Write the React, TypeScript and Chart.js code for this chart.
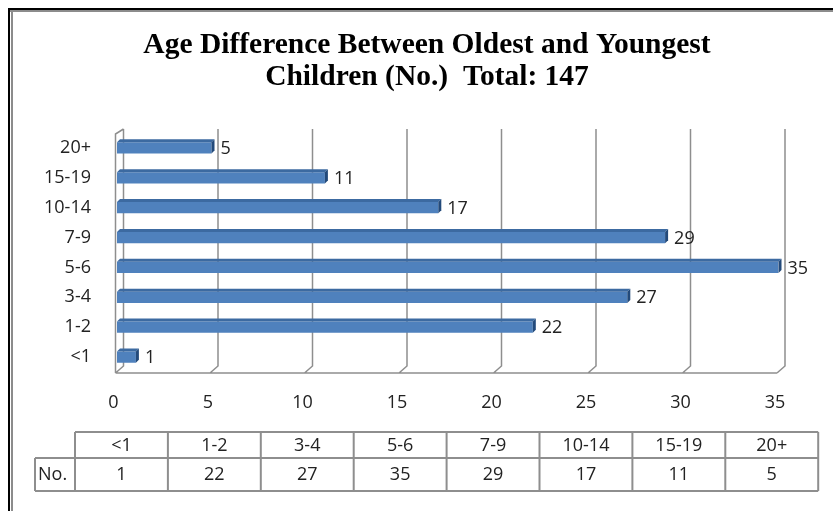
import React, { useEffect, useRef } from 'react';
import { Chart, registerables } from 'chart.js';

Chart.register(...registerables);

// ---- data ----
const categories = ['<1', '1-2', '3-4', '5-6', '7-9', '10-14', '15-19', '20+'];
const counts = [1, 22, 27, 35, 29, 17, 11, 5];
const titleLines = ['Age Difference Between Oldest and Youngest', 'Children (No.)  Total: 147'];
const tableRowLabel = 'No.';
const xMin = 0;
const xMax = 35;
const xStep = 5;

const SANS = '"Open Sans", sans-serif';
const SERIF = '"Liberation Serif", "Times New Roman", serif';
const TEXT = '#222';
const GRID = '#8e8e8e';

const framePlugin = {
  id: 'frame',
  beforeDraw(chart: any) {
    const { ctx, width, height } = chart;
    ctx.save();
    ctx.fillStyle = '#fff';
    ctx.fillRect(0, 0, width, height);
    ctx.fillStyle = '#000';
    ctx.fillRect(8, 8, width - 8, 2);
    ctx.fillRect(8, 8, 2, height - 8);
    ctx.fillStyle = '#8c8c8c';
    ctx.fillRect(10, 10, width - 10, 2);
    ctx.fillRect(11, 11, 2, height - 11);
    ctx.restore();
  },
};

const titlePlugin = {
  id: 'customTitle',
  afterDraw(chart: any) {
    const { ctx } = chart;
    ctx.save();
    ctx.fillStyle = '#000';
    ctx.font = `bold 29.5px ${SERIF}`;
    ctx.textAlign = 'center';
    ctx.textBaseline = 'alphabetic';
    titleLines.forEach((line, i) => {
      ctx.fillText(line, 427, 53 + i * 32);
    });
    ctx.restore();
  },
};

const grid3dPlugin = {
  id: 'grid3d',
  beforeDatasetsDraw(chart: any) {
    const { ctx, chartArea } = chart;
    const xs = chart.scales.x;
    const back = 6.5;
    const front = -1.5;
    const yTop = chartArea.top - 4;
    const yBackBot = chartArea.bottom - 6;
    const yFloor = chartArea.bottom + 1;
    ctx.save();
    ctx.strokeStyle = GRID;
    ctx.lineWidth = 1.5;
    ctx.beginPath();
    xs.ticks.forEach((t: any) => {
      const p = xs.getPixelForValue(t.value);
      ctx.moveTo(p + back, yTop);
      ctx.lineTo(p + back, yBackBot);
      ctx.lineTo(p + front, yFloor);
    });
    const p0 = xs.getPixelForValue(xs.min);
    const p1 = xs.getPixelForValue(xs.max);
    ctx.moveTo(p0 + front, yFloor);
    ctx.lineTo(p1 + front, yFloor);
    ctx.moveTo(p0 + front, yFloor);
    ctx.lineTo(p0 + front, yTop + 5);
    ctx.lineTo(p0 + back, yTop);
    ctx.stroke();
    ctx.restore();
  },
};

const bar3dPlugin = {
  id: 'bar3d',
  afterDatasetsDraw(chart: any) {
    const { ctx } = chart;
    const meta = chart.getDatasetMeta(0);
    const dx = 3;
    const dy = 3;
    ctx.save();
    meta.data.forEach((el: any, i: number) => {
      const { x, y, base, height } = el.getProps(['x', 'y', 'base', 'height'], true);
      const t = y - height / 2;
      const b = y + height / 2;
      ctx.fillStyle = '#3c6aa1';
      ctx.beginPath();
      ctx.moveTo(base, t);
      ctx.lineTo(base + dx, t - dy);
      ctx.lineTo(x + dx, t - dy);
      ctx.lineTo(x, t);
      ctx.closePath();
      ctx.fill();
      ctx.fillStyle = '#234a7b';
      ctx.beginPath();
      ctx.moveTo(x, t);
      ctx.lineTo(x + dx, t - dy);
      ctx.lineTo(x + dx, b - dy);
      ctx.lineTo(x, b);
      ctx.closePath();
      ctx.fill();
      ctx.fillStyle = TEXT;
      ctx.font = `18px ${SANS}`;
      ctx.textBaseline = 'middle';
      ctx.textAlign = 'left';
      ctx.fillText(String(counts[i]), x + 9, y + 1);
    });
    ctx.restore();
  },
};

const tablePlugin = {
  id: 'dataTable',
  afterDraw(chart: any) {
    const { ctx } = chart;
    const left = 75;
    const colW = 92.9;
    const top = 432;
    const mid = 458;
    const bot = 491;
    const labelLeft = 35;
    const right = left + colW * categories.length;
    ctx.save();
    ctx.strokeStyle = GRID;
    ctx.lineWidth = 2;
    ctx.beginPath();
    ctx.moveTo(left, top);
    ctx.lineTo(right, top);
    ctx.moveTo(labelLeft, mid);
    ctx.lineTo(right, mid);
    ctx.moveTo(labelLeft, bot);
    ctx.lineTo(right, bot);
    ctx.moveTo(labelLeft, mid);
    ctx.lineTo(labelLeft, bot);
    for (let i = 0; i <= categories.length; i++) {
      const x = left + colW * i;
      ctx.moveTo(x, top);
      ctx.lineTo(x, bot);
    }
    ctx.stroke();
    ctx.fillStyle = TEXT;
    ctx.font = `18px ${SANS}`;
    ctx.textBaseline = 'middle';
    ctx.textAlign = 'center';
    categories.forEach((c, i) => {
      const cx = left + colW * (i + 0.5);
      ctx.fillText(c, cx, (top + mid) / 2 + 1);
      ctx.fillText(String(counts[i]), cx, (mid + bot) / 2);
    });
    ctx.textAlign = 'left';
    ctx.fillText(tableRowLabel, labelLeft + 3, (mid + bot) / 2);
    ctx.restore();
  },
};

export default function App() {
  const ref = useRef<HTMLCanvasElement | null>(null);

  useEffect(() => {
    if (!ref.current) return;
    const chart = new Chart(ref.current, {
      type: 'bar',
      data: {
        labels: categories,
        datasets: [
          {
            data: counts,
            backgroundColor: '#4f81bd',
            borderWidth: 0,
            barPercentage: 0.38,
            categoryPercentage: 1,
          },
        ],
      },
      options: {
        indexAxis: 'y',
        animation: false,
        responsive: false,
        maintainAspectRatio: false,
        devicePixelRatio: 1,
        layout: { padding: { left: 0, right: 54.5, top: 133, bottom: 0 } },
        plugins: {
          legend: { display: false },
          tooltip: { enabled: false },
          title: { display: false },
        },
        scales: {
          x: {
            type: 'linear',
            min: xMin,
            max: xMax,
            grid: { display: false, drawTicks: false },
            border: { display: false },
            ticks: {
              stepSize: xStep,
              padding: 20,
              labelOffset: -3.5,
              color: TEXT,
              font: { family: SANS, size: 18 },
            },
            afterFit: (s: any) => {
              s.height = 139;
            },
          },
          y: {
            type: 'category',
            reverse: true,
            grid: { display: false, drawTicks: false },
            border: { display: false },
            ticks: { padding: 26, color: TEXT, font: { family: SANS, size: 18 } },
            afterFit: (s: any) => {
              s.width = 117;
            },
          },
        },
      },
      plugins: [framePlugin, grid3dPlugin, bar3dPlugin, tablePlugin, titlePlugin],
    });
    return () => chart.destroy();
  }, []);

  return (
    <div style={{ position: 'absolute', left: 0, top: 0, width: 833, height: 511 }}>
      <canvas ref={ref} width={833} height={511} style={{ display: 'block' }} />
    </div>
  );
}
